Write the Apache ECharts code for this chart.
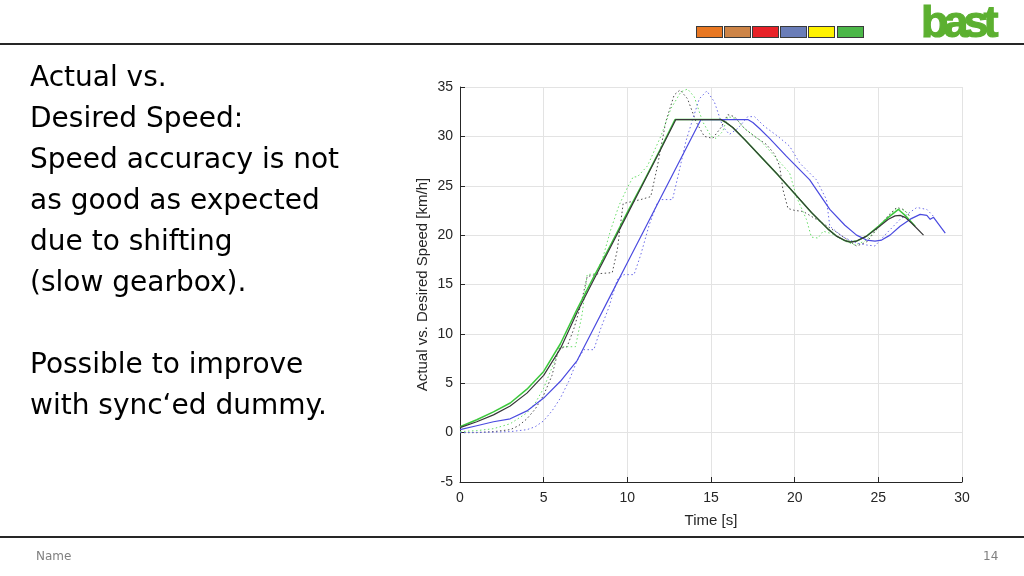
<!DOCTYPE html>
<html>
<head>
<meta charset="utf-8">
<script src="https://cdn.jsdelivr.net/npm/echarts@6/dist/echarts.min.js"></script>
<style>
  html, body { margin:0; padding:0; background:#fff; }
  #page { position:relative; width:1024px; height:576px; overflow:hidden; background:#fff; }
  #chart { position:absolute; left:0; top:0; width:1024px; height:576px; }
  .hline { position:absolute; left:0; width:1024px; background:#262626; }
  #text { position:absolute; left:30px; top:56px; font-family:"DejaVu Sans", Verdana, sans-serif; font-size:28px; line-height:41px; color:#000; white-space:pre; }
  .box { position:absolute; top:26px; width:25px; height:10px; border:1px solid #3a3a3a; }
  #logo { position:absolute; left:921px; top:-4px; font-family:"Liberation Sans", Arial, sans-serif; font-weight:bold; font-size:45px; letter-spacing:-5px; color:#5cb030; -webkit-text-stroke:1.2px #5cb030; }
  .foot { position:absolute; top:549px; font-family:"DejaVu Sans", Verdana, sans-serif; font-size:12px; color:#7f7f7f; }
</style>
</head>
<body>
<div id="page">
  <div id="chart"></div>
  <div class="hline" style="top:43px;height:2px;"></div>
  <div class="hline" style="top:536px;height:2px;"></div>
  <div id="text">Actual vs.
Desired Speed:
Speed accuracy is not
as good as expected
due to shifting
(slow gearbox).

Possible to improve
with sync‘ed dummy.</div>
  <div class="box" style="left:696px;background:#e87722;"></div>
  <div class="box" style="left:724px;background:#cd8447;"></div>
  <div class="box" style="left:752px;background:#e82228;"></div>
  <div class="box" style="left:780px;background:#6a7db8;"></div>
  <div class="box" style="left:808px;background:#fff200;"></div>
  <div class="box" style="left:837px;background:#4cb748;"></div>
  <div id="logo">bast</div>
  <div class="foot" style="left:36px;">Name</div>
  <div class="foot" style="left:983px;top:549px;">14</div>
</div>
<script>
// Axis ticks
const xTicks = [0, 5, 10, 15, 20, 25, 30];
const yTicks = [-5, 0, 5, 10, 15, 20, 25, 30, 35];

// Desired speed, run A (black solid)
const tDesA = [0,1,2,3,4,5,6,7,8,9,10,11,12,12.9,15.6,15.9,16.3,17,18,19,20,21,22,22.5,23,23.3,23.7,24.3,25,25.6,26,26.3,26.6,27,27.7];
const vDesA = [0.5,1.1,1.8,2.7,4.0,5.8,8.5,12.2,15.5,18.8,22.1,25.4,28.7,31.7,31.7,31.4,30.9,29.7,27.9,26.1,24.2,22.3,20.6,19.9,19.45,19.3,19.4,19.9,20.8,21.6,21.95,22.0,21.8,21.2,20.0];

// Desired speed, run A second channel (green solid)
const tDesG = [0,1,2,3,4,5,6,7,8,9,10,11,12,12.85,15.6,15.9,16.3,17,18,19,20,21,22,22.5,23,23.3,23.7,24.3,25,25.6,25.9,26.2,26.6,27.2];
const vDesG = [0.6,1.3,2.1,3.0,4.4,6.2,9.0,12.5,15.8,19.0,22.3,25.5,28.8,31.7,31.7,31.4,30.9,29.7,27.9,26.1,24.2,22.3,20.6,19.9,19.45,19.3,19.4,19.9,20.9,21.8,22.2,22.6,22.0,20.9];

// Desired speed, run B (blue solid)
const tDesB = [0,1,2,3,4,5,6,7,8,9,10,11,12,13,14,14.4,17.2,17.5,17.9,18.5,19.5,20.9,22.1,23,23.7,24.3,24.8,25.2,25.7,26.3,27,27.5,27.9,28.1,28.3,29];
const vDesB = [0.3,0.7,1.1,1.4,2.2,3.5,5.2,7.3,10.6,13.9,17.2,20.5,23.8,27.1,30.4,31.7,31.7,31.4,30.8,29.8,28.0,25.6,22.6,21.0,20.0,19.5,19.4,19.5,20.0,20.9,21.7,22.1,22.0,21.6,21.8,20.2];

// Actual speed, run A (black dotted)
const tActA = [0,1,2,3,3.5,4,4.5,5,5.5,5.9,6.4,6.8,7.2,7.6,8.3,9.1,9.4,9.75,10.8,11.4,11.8,12.3,12.8,13.15,13.6,14.1,14.6,15.1,15.6,16,16.4,17,17.6,18.3,18.8,19.1,19.3,19.6,20,20.5,21.3,22.5,23.7,24.3,25,25.6,26.1,26.5,26.9];
const vActA = [0,0,0.1,0.3,0.7,1.4,2.4,3.8,5.8,8.5,8.7,10.5,12.8,15.8,16.1,16.2,18.5,23.2,23.6,23.9,27.0,31.5,34.2,34.7,33.8,31.5,30.0,29.8,30.9,32.2,32.0,30.8,30.0,29.2,28.2,27.0,24.6,22.7,22.5,22.4,21.6,20.3,18.9,19.3,20.8,22.0,22.8,22.6,21.9];

// Actual speed, run A second channel (green dotted)
const tActG = [0,1,2,3,4,4.5,5,5.5,6,6.9,7.3,7.6,8.1,8.5,9,9.5,10,10.35,10.6,11.2,12,12.6,13.2,13.6,14,14.5,15,15.3,15.7,16,16.5,17,18,19,19.7,20.1,20.7,21,21.4,21.7,22.3,23,23.6,24.2,25,25.6,26.1,26.6,27];
const vActG = [0.1,0.2,0.4,0.9,2.0,3.0,4.5,6.6,8.7,8.7,12.0,16.0,16.1,17.5,20.5,23.0,24.8,25.9,25.9,27.0,30.0,32.8,34.5,34.8,34.0,31.5,30.0,29.8,30.5,32.0,31.8,30.8,29.5,27.6,26.3,23.9,21.6,19.8,19.7,20.4,20.1,19.4,19.0,19.4,20.7,21.9,22.7,22.5,21.6];

// Actual speed, run B (blue dotted)
const tActB = [0,2,3,4,4.5,5,5.5,6,6.5,7,7.4,8,8.4,8.9,9.4,9.8,10.4,10.8,11.3,11.8,12,12.7,13.1,13.5,13.9,14.3,14.75,15.2,15.7,16.1,16.6,17.2,17.6,18.2,19,19.7,20.3,21.3,21.9,22.1,22.9,23.7,24.3,24.8,25.5,26.3,27.3,27.9,28.3];
const vActB = [0,0.05,0.1,0.3,0.6,1.2,2.2,3.5,5.2,7.3,8.4,8.4,10.5,12.7,15.5,16.0,16.0,18.0,21.0,23.3,23.6,23.6,26.5,29.5,31.7,33.8,34.6,33.5,31.0,30.2,30.8,32.0,32.0,31.0,30.0,29.0,27.3,25.6,23.6,20.9,19.8,19.2,19.0,18.9,20.2,21.6,22.8,22.6,21.9];

const zip = (t, v) => t.map((x, i) => [x, v[i]]);

const chart = echarts.init(document.getElementById('chart'), null, { renderer: 'canvas' });
const axisColor = '#262626';
const labelFont = { color: axisColor, fontFamily: 'Liberation Sans, Arial, sans-serif', fontSize: 14 };

function line(name, data, color, dotted, width, z) {
  return {
    name, type: 'line', data, showSymbol: false, symbol: 'none',
    smooth: false, z: z,
    lineStyle: { color, width: width, type: dotted ? [1.5, 2.5] : 'solid', join: 'round' },
    silent: true
  };
}

chart.setOption({
  animation: false,
  backgroundColor: 'transparent',
  grid: { left: 460, right: 62, top: 87, bottom: 94, containLabel: false },
  xAxis: {
    type: 'value', min: xTicks[0], max: xTicks[xTicks.length - 1], interval: 5,
    name: 'Time [s]', nameLocation: 'middle', nameGap: 31,
    nameTextStyle: { color: axisColor, fontFamily: 'Liberation Sans, Arial, sans-serif', fontSize: 15 },
    axisLine: { show: true, onZero: false, lineStyle: { color: axisColor, width: 1 } },
    axisTick: { show: true, inside: true, length: 5, lineStyle: { color: axisColor } },
    axisLabel: Object.assign({ margin: 9 }, labelFont),
    splitLine: { show: true, lineStyle: { color: '#e3e3e3', width: 1 } }
  },
  yAxis: {
    type: 'value', min: yTicks[0], max: yTicks[yTicks.length - 1], interval: 5,
    name: 'Actual vs. Desired Speed [km/h]', nameLocation: 'middle', nameGap: 30,
    nameTextStyle: { color: axisColor, fontFamily: 'Liberation Sans, Arial, sans-serif', fontSize: 15 },
    axisLine: { show: true, onZero: false, lineStyle: { color: axisColor, width: 1 } },
    axisTick: { show: true, inside: true, length: 5, lineStyle: { color: axisColor } },
    axisLabel: Object.assign({ margin: 7 }, labelFont),
    splitLine: { show: true, lineStyle: { color: '#e3e3e3', width: 1 } }
  },
  series: [
    line('Actual A', zip(tActA, vActA), '#4a4a4a', true, 1, 2),
    line('Actual A2', zip(tActG, vActG), '#66dd66', true, 1, 2),
    line('Actual B', zip(tActB, vActB), '#6a6ae8', true, 1, 2),
    line('Desired A2', zip(tDesG, vDesG), '#3cc83c', false, 1.5, 3),
    line('Desired B', zip(tDesB, vDesB), '#4a4ae0', false, 1.2, 3),
    line('Desired A', zip(tDesA, vDesA), '#383838', false, 1.2, 4)
  ]
});
</script>
</body>
</html>
